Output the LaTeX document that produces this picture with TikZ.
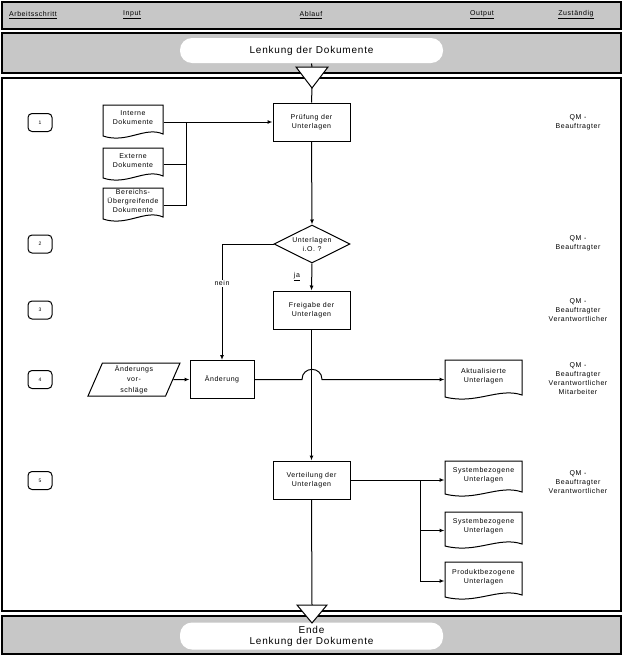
\documentclass[tikz,border=0pt]{standalone}
\usepackage{fontspec}
\setmainfont{Liberation Sans}[LetterSpace=8]
\usetikzlibrary{shapes.geometric,arrows.meta}
\newcommand\fs[2]{\fontsize{#1}{#2}\selectfont}
\newcommand\docnode[6]{%
  \draw[fill=white] (#2,#3) -- (#4,#3) -- (#4,{#5-5}) .. controls ({#4-0.3*(#4-#2)},{#5-13}) and ({#2+0.4*(#4-#2)},{#5+5}) .. (#2,{#5-3}) -- cycle;
  \node[docbox, minimum width={(#4-#2)*1pt}, minimum height={(#5-#3)*1pt}] (#1) at ({(#2+#4)/2},{(#3+#5)/2}) {};
  \node[txt] (#1t) at ({(#2+#4)/2},{(#3+#5)/2-4}) {#6};
}
\begin{document}
\begin{tikzpicture}[x=1pt,y=-1pt, line width=1pt,
  band/.style={draw, line width=1.5pt, fill=black!22},
  txt/.style={font=\fs{7}{9}, align=center, inner sep=0pt},
  pbox/.style={draw, fill=white, minimum width=77pt, minimum height=38pt, inner sep=0pt, align=center, font=\fs{7}{9}},
  docbox/.style={inner sep=0pt, draw=none},
  stepnum/.style={draw, rounded corners=4pt, minimum width=24pt, minimum height=18pt, inner sep=0pt, font=\fs{5}{6}},
  arr/.style={-{Latex[length=5pt,width=4pt]}},
  hdr/.style={font=\fs{7}{8}, inner sep=0pt},
  oval/.style={fill=white, rounded corners=12pt, minimum width=263pt, inner sep=0pt, align=center, font=\fs{10}{11}}]
\useasboundingbox (0,0) rectangle (623,656);
% bands
\draw[band] (2,2) rectangle (621,29);
\draw[band] (2,33) rectangle (621,73);
\draw[line width=1.5pt, fill=white] (2,78) rectangle (621,611);
\draw[band] (2,616) rectangle (621,654);
% header
\node[hdr] (h1) at (33,15) {\underline{Arbeitsschritt}};
\node[hdr] (h2) at (132,15) {\underline{Input}};
\node[hdr] (h3) at (311,15) {\underline{Ablauf}};
\node[hdr] (h4) at (482,15) {\underline{Output}};
\node[hdr] (h5) at (576,15) {\underline{Zuständig}};
% start / end
\node[oval, minimum height=25pt] (title) at (311.5,50.5) {Lenkung der Dokumente};
\node[oval, minimum height=27pt] (ende) at (311.5,636) {Ende\\Lenkung der Dokumente};
\coordinate (tAtop) at (312,67);
\coordinate (tAapex) at (312,88);
\coordinate (tBtop) at (312,605);
\coordinate (tBapex) at (312,623);
\draw (title.south) -- (tAtop);
\draw[fill=white] (296,67) -- (328,67) -- (tAapex) -- cycle;
% step numbers
\node[stepnum] (s1) at (40,122.5) {1};
\node[stepnum] (s2) at (40,244) {2};
\node[stepnum] (s3) at (40,310) {3};
\node[stepnum] (s4) at (40,379.5) {4};
\node[stepnum] (s5) at (40,480.5) {5};
% responsible
\node[txt] (r1) at (578,122) {QM -\\Beauftragter};
\node[txt] (r2) at (578,243) {QM -\\Beauftragter};
\node[txt] (r3) at (578,310) {QM -\\Beauftragter\\Verantwortlicher};
\node[txt] (r4) at (578,379) {QM -\\Beauftragter\\Verantwortlicher\\Mitarbeiter};
\node[txt] (r5) at (578,482) {QM -\\Beauftragter\\Verantwortlicher};
% process
\node[pbox] (pruef) at (311.5,122) {Prüfung der\\Unterlagen};
\node[draw, fill=white, diamond, minimum width=76pt, minimum height=38pt, inner sep=0pt] (io) at (312,244) {};
\node[txt] (iot) at (312,244) {Unterlagen\\i.O. ?};
\node[pbox] (frei) at (311.5,310) {Freigabe der\\Unterlagen};
\node[pbox, minimum width=64pt] (aend) at (222,379.5) {Änderung};
\node[pbox] (vert) at (311.5,480) {Verteilung der\\Unterlagen};
\node[draw, fill=white, trapezium, trapezium left angle=63, trapezium right angle=117, trapezium stretches body, minimum width=92pt, minimum height=33pt, inner sep=0pt, align=center, font=\fs{7}{10.5}] (para) at (134,379.5) {Änderungs\\vor-\\schläge};
% documents
\docnode{intern}{103}{105}{163}{139}{Interne\\Dokumente}
\docnode{extern}{103}{148}{163}{181}{Externe\\Dokumente}
\docnode{bereich}{103}{188}{163}{222}{Bereichs-\\Übergreifende\\Dokumente}
\docnode{akt}{445}{360}{522}{400}{Aktualisierte\\Unterlagen}
\docnode{sysa}{445}{461}{522}{497}{Systembezogene\\Unterlagen}
\docnode{sysb}{445}{512}{522}{549}{Systembezogene\\Unterlagen}
\docnode{prod}{445}{562}{522}{600}{Produktbezogene\\Unterlagen}
% connectors
\draw (tAapex) -- (pruef.north);
\coordinate (j1) at (186,122);
\draw[arr] (intern.east) -- (pruef.west);
\draw (extern.east) -| (j1);
\draw (bereich.east) -| (j1);
\draw[arr] (pruef.south) -- (io.north);
\draw[arr] (io.south) -- (frei.north);
\node[txt] (ja) at (297,277) {\underline{ja}};
\draw[arr] (io.west) -| node[pos=0.67, fill=white, txt, inner sep=1pt] (nein) {nein} (aend.north);
\draw[arr] (frei.south) -- (vert.north);
\draw[arr] (para.east) -- (aend.west);
\draw[arr] (aend.east) -- (302,379.5) .. controls (302,366) and (322,366) .. (322,379.5) -- (aend.east -| akt.west);
\coordinate (j2) at (420,480);
\draw[arr] (vert.east) -- (vert.east -| sysa.west);
\draw[arr] (j2) |- (sysb.west);
\draw[arr] (j2) |- (prod.west);
\draw (vert.south) -- (tBtop);
\draw[fill=white] (297,605) -- (327,605) -- (tBapex) -- cycle;
\end{tikzpicture}
\end{document}
